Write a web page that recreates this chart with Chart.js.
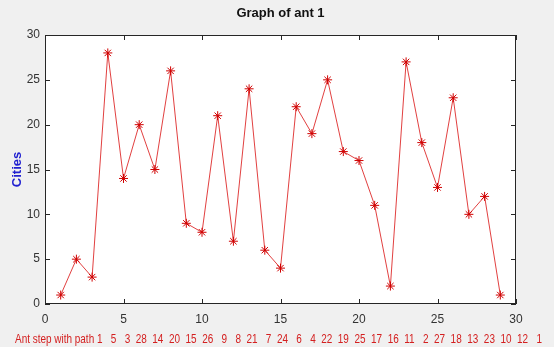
<!DOCTYPE html>
<html>
<head>
<meta charset="utf-8">
<script src="https://cdn.jsdelivr.net/npm/chart.js@4/dist/chart.umd.min.js"></script>
<style>
html,body{margin:0;padding:0;background:#f0f0f0;}
#wrap{width:554px;height:347px;}
</style>
</head>
<body>
<div id="wrap"><canvas id="c" width="554" height="347"></canvas></div>
<script>
const steps = [1,2,3,4,5,6,7,8,9,10,11,12,13,14,15,16,17,18,19,20,21,22,23,24,25,26,27,28,29];
const path = [1,5,3,28,14,20,15,26,9,8,21,7,24,6,4,22,19,25,17,16,11,2,27,18,13,23,10,12,1];
const xTicks = [0,5,10,15,20,25,30];
const yTicks = [0,5,10,15,20,25,30];
const titleText = 'Graph of ant 1';
const yLabel = 'Cities';
const xLabel = 'Ant step with path' + path.map(v => String(v).padStart(2, ' ')).join('  ');

const FONT = "'Liberation Sans', Arial, sans-serif";

const framePlugin = {
  id: 'frame',
  beforeDraw(chart) {
    const {ctx, chartArea: a} = chart;
    ctx.save();
    ctx.fillStyle = '#f0f0f0';
    ctx.fillRect(0, 0, chart.width, chart.height);
    ctx.fillStyle = '#ffffff';
    ctx.fillRect(a.left, a.top, a.right - a.left, a.bottom - a.top);
    ctx.restore();
  },
  afterDatasetsDraw(chart) {
    const {ctx, chartArea: a, scales} = chart;
    ctx.save();
    ctx.strokeStyle = '#262626';
    ctx.lineWidth = 1;
    ctx.strokeRect(Math.round(a.left) + 0.5, Math.round(a.top) + 0.5, Math.round(a.right - a.left) - 1, Math.round(a.bottom - a.top) - 1);
    const L = 5;
    ctx.beginPath();
    xTicks.forEach(v => {
      const x = Math.round(scales.x.getPixelForValue(v)) + 0.5;
      ctx.moveTo(x, a.bottom); ctx.lineTo(x, a.bottom - L);
      ctx.moveTo(x, a.top); ctx.lineTo(x, a.top + L);
    });
    yTicks.forEach(v => {
      const y = Math.round(scales.y.getPixelForValue(v)) + 0.5;
      ctx.moveTo(a.left, y); ctx.lineTo(a.left + L, y);
      ctx.moveTo(a.right, y); ctx.lineTo(a.right - L, y);
    });
    ctx.stroke();
    // x-axis label, condensed to the reference width
    ctx.font = "13px " + FONT;
    ctx.fillStyle = '#d42020';
    ctx.textAlign = 'center';
    ctx.textBaseline = 'middle';
    ctx.fillText(xLabel, 278.5, 339, 527);
    ctx.restore();
  }
};

new Chart(document.getElementById('c'), {
  type: 'line',
  data: {
    datasets: [{
      data: steps.map((s, i) => ({x: s, y: path[i]})),
      borderColor: 'rgba(220,30,30,0.85)',
      borderWidth: 1,
      pointStyle: 'star',
      pointRadius: 4.5,
      pointBorderColor: '#d00000',
      pointBackgroundColor: '#d00000',
      pointBorderWidth: 1,
      tension: 0,
      fill: false
    }]
  },
  options: {
    responsive: false,
    animation: false,
    layout: {padding: {left: 0, right: 38, top: 0, bottom: 0}},
    plugins: {
      legend: {display: false},
      tooltip: {enabled: false},
      title: {
        display: true,
        fullSize: false,
        text: titleText,
        color: '#111111',
        font: {family: FONT, size: 13, weight: 'bold', lineHeight: 1.2},
        padding: {top: 6, bottom: 13.4}
      }
    },
    scales: {
      x: {
        type: 'linear',
        min: 0, max: 30,
        afterBuildTicks(scale) { scale.ticks = xTicks.map(v => ({value: v})); },
        afterFit(scale) { scale.height = 43; },
        grid: {display: false, drawTicks: false},
        border: {display: false},
        ticks: {color: '#333333', padding: 8, maxRotation: 0, autoSkip: false,
                font: {family: FONT, size: 12}},
        title: {display: false}
      },
      y: {
        type: 'linear',
        min: 0, max: 30,
        afterBuildTicks(scale) { scale.ticks = yTicks.map(v => ({value: v})); },
        afterFit(scale) { scale.width = 45; },
        grid: {display: false, drawTicks: false},
        border: {display: false},
        ticks: {color: '#333333', padding: 5, autoSkip: false,
                font: {family: FONT, size: 12}},
        title: {display: true, text: yLabel, color: '#2020d0',
                font: {family: FONT, size: 13, weight: 'bold', lineHeight: 1.2}, padding: {top: 10, bottom: 0}}
      }
    }
  },
  plugins: [framePlugin]
});
</script>
</body>
</html>
